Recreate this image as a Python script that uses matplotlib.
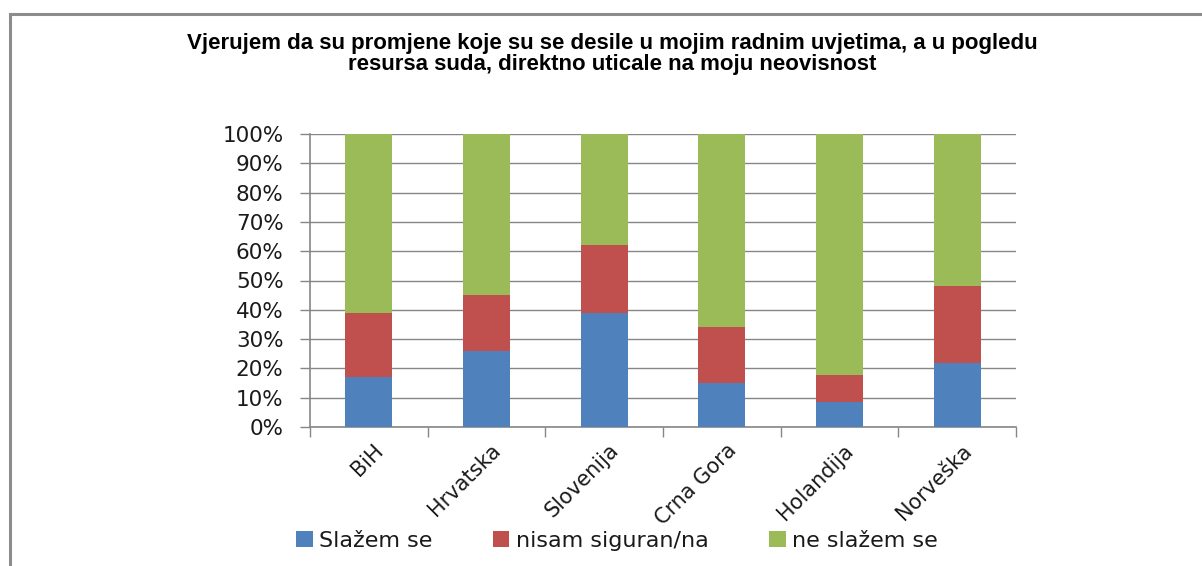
import matplotlib.pyplot as plt
import numpy as np
from matplotlib.patches import Rectangle
from matplotlib.ticker import FixedLocator, PercentFormatter
import matplotlib.transforms as mtransforms

countries = ['BiH', 'Hrvatska', 'Slovenija', 'Crna Gora', 'Holandija', 'Norveška']
slazem = [17, 26, 39, 15, 8.5, 22]
nisam = [22, 19, 23, 19, 9.2, 26]
ne_slazem = [61, 55, 38, 66, 82.3, 52]
series_names = ['Slažem se', 'nisam siguran/na', 'ne slažem se']
colors = ['#4F81BD', '#C0504D', '#9BBB59']

title = ('Vjerujem da su promjene koje su se desile u mojim radnim uvjetima, a u pogledu\n'
         'resursa suda, direktno uticale na moju neovisnost')

fig = plt.figure(figsize=(12.02, 5.66), dpi=100)
ax = fig.add_axes([310 / 1202, 1 - 427 / 566, 706 / 1202, 293 / 566])

x = np.arange(len(countries))
bottom = np.zeros(len(countries))
for vals, name, c in zip([slazem, nisam, ne_slazem], series_names, colors):
    ax.bar(x, vals, width=0.4, bottom=bottom, color=c, label=name, zorder=3)
    bottom += np.array(vals)

ax.set_xlim(-0.5, len(countries) - 0.5)
ax.set_ylim(0, 100)
ax.yaxis.set_major_locator(FixedLocator(np.arange(0, 101, 10)))
ax.yaxis.set_major_formatter(PercentFormatter(decimals=0))
ax.grid(axis='y', color='#868686', linewidth=1.0, zorder=0)

# ticks between categories, labels under bars
ax.set_xticks(x)
ax.set_xticks(np.arange(-0.5, len(countries), 1), minor=True)
ax.tick_params(axis='x', which='major', length=0, pad=6)
ax.tick_params(axis='x', which='minor', length=7, color='#868686', width=1)
ax.tick_params(axis='y', length=7, color='#868686', width=1, pad=12)
labels = ax.set_xticklabels(countries, rotation=45, ha='right', va='top',
                            rotation_mode='anchor', fontsize=15, color='#1a1a1a')
offset = mtransforms.ScaledTranslation(0.04, -0.05, fig.dpi_scale_trans)
for lab in labels:
    lab.set_transform(lab.get_transform() + offset)
for lab in ax.get_yticklabels():
    lab.set_fontsize(15.5)
    lab.set_color('#1a1a1a')

for s in ['top', 'right']:
    ax.spines[s].set_visible(False)
for s in ['left', 'bottom']:
    ax.spines[s].set_color('#868686')
    ax.spines[s].set_linewidth(1.2)

fig.text(0.509, 1 - 54 / 566, title, ha='center', va='center', fontsize=16,
         fontweight='bold', family='Liberation Sans', linespacing=1.05)

leg = fig.legend(loc='center', bbox_to_anchor=(617 / 1202, 1 - 541 / 566), ncol=3,
                 frameon=False, fontsize=16, handlelength=0.75, handleheight=0.75,
                 handletextpad=0.3, columnspacing=2.7)
for t in leg.get_texts():
    t.set_color('#1a1a1a')

# outer chart frame (cut off on the right and bottom)
fig.patches.append(Rectangle((9.5 / 1202, -0.2), 1.5, 1.2 - 14 / 566,
                             transform=fig.transFigure, fill=False,
                             edgecolor='#8c8c8c', linewidth=2.2))

fig.savefig('out.png', dpi=100)
